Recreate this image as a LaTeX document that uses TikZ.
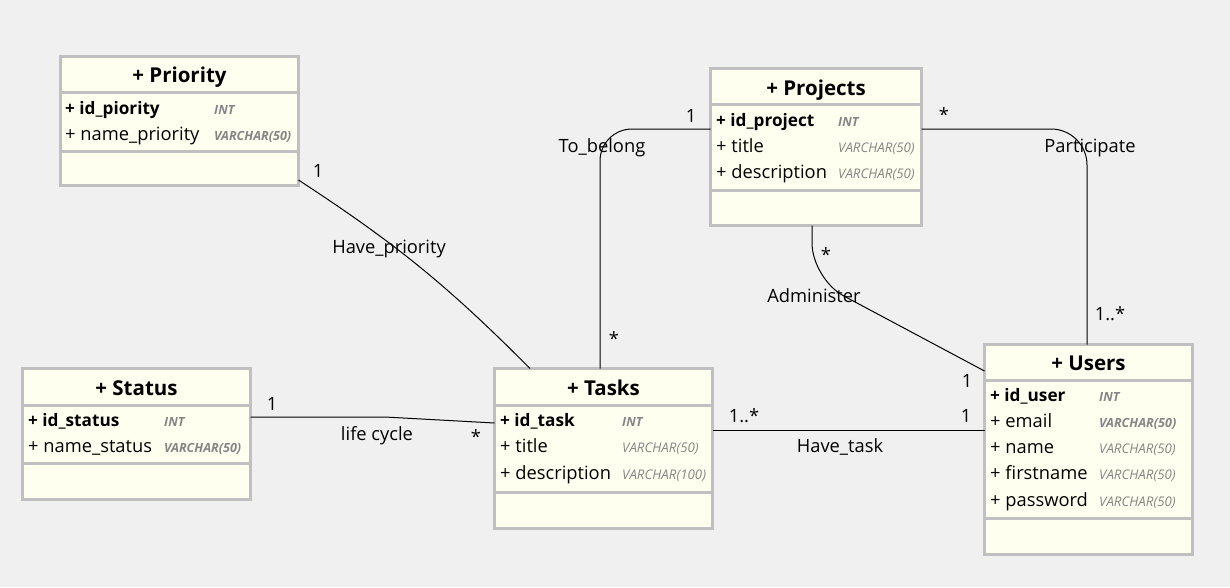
\documentclass[tikz,border=0pt]{standalone}
\usepackage{fontspec}
\setmainfont{Open Sans}
\usetikzlibrary{positioning}
\definecolor{canvas}{HTML}{F0F0F0}
\definecolor{boxfill}{HTML}{FFFFF0}
\definecolor{boxline}{HTML}{C0C0C0}
\definecolor{typegray}{HTML}{858585}

\begin{document}
\begin{tikzpicture}[x=1pt,y=-1pt]
	\tikzstyle{classbox}=[draw=boxline,line width=3pt,fill=boxfill,anchor=north west,inner sep=0pt,outer sep=0pt]
	\tikzstyle{sep}=[draw=boxline,line width=3pt]
	\tikzstyle{title}=[anchor=base,inner sep=0pt,font=\bfseries\fontsize{20.5}{24}\selectfont]
	\tikzstyle{field}=[anchor=base west,inner sep=0pt,font=\fontsize{18.3}{22}\selectfont]
	\tikzstyle{keyfield}=[anchor=base west,inner sep=0pt,font=\bfseries\fontsize{17.2}{22}\selectfont]
	\tikzstyle{sqltype}=[anchor=base west,inner sep=0pt,text=typegray,font=\itshape\fontsize{13.3}{15}\selectfont]
	\tikzstyle{sqlkey}=[anchor=base west,inner sep=0pt,text=typegray,font=\bfseries\itshape\fontsize{12.6}{15}\selectfont]
	\tikzstyle{assoc}=[draw=black,line width=1pt]
	\tikzstyle{lbl}=[anchor=base,inner sep=0pt,font=\fontsize{18.3}{22}\selectfont]

	\fill[canvas] (0,0) rectangle (1230,587);
	\useasboundingbox (0,0) rectangle (1230,587);

	% classes
	\node[classbox,minimum width=238,minimum height=129] (priority) at (60.5,56.5) {};
	\node[classbox,minimum width=211,minimum height=157] (projects) at (710.5,68.5) {};
	\node[classbox,minimum width=208,minimum height=210] (users) at (984.5,344.5) {};
	\node[classbox,minimum width=228,minimum height=131] (status) at (22.5,368.5) {};
	\node[classbox,minimum width=218,minimum height=160] (tasks) at (494.5,368.5) {};

	\draw[sep] (priority.west |- 0,92) -- (priority.east |- 0,92);
	\draw[sep] (priority.west |- 0,151) -- (priority.east |- 0,151);
	\draw[sep] (projects.west |- 0,104) -- (projects.east |- 0,104);
	\draw[sep] (projects.west |- 0,190) -- (projects.east |- 0,190);
	\draw[sep] (users.west |- 0,380) -- (users.east |- 0,380);
	\draw[sep] (users.west |- 0,518) -- (users.east |- 0,518);
	\draw[sep] (status.west |- 0,405) -- (status.east |- 0,405);
	\draw[sep] (status.west |- 0,463) -- (status.east |- 0,463);
	\draw[sep] (tasks.west |- 0,405) -- (tasks.east |- 0,405);
	\draw[sep] (tasks.west |- 0,492) -- (tasks.east |- 0,492);

	% Priority
	\node[title] (priorityT) at (priority.north |- 0,82) {+ Priority};
	\node[keyfield] (priorityId) at (65,114) {+ id\_piority};
	\node[sqlkey] (priorityIdT) at (214,114) {INT};
	\node[field] (priorityName) at (65,140) {+ name\_priority};
	\node[sqlkey] (priorityNameT) at (214,140) {VARCHAR(50)};

	% Projects
	\node[title] (projectsT) at (projects.north |- 0,95) {+ Projects};
	\node[keyfield] (projectsId) at (716,126) {+ id\_project};
	\node[sqlkey] (projectsIdT) at (838,126) {INT};
	\node[field] (projectsTitle) at (716,152) {+ title};
	\node[sqltype] (projectsTitleT) at (838,152) {VARCHAR(50)};
	\node[field] (projectsDesc) at (716,178) {+ description};
	\node[sqltype] (projectsDescT) at (838,178) {VARCHAR(50)};

	% Users
	\node[title] (usersT) at (users.north |- 0,370) {+ Users};
	\node[keyfield] (usersId) at (990,401) {+ id\_user};
	\node[sqlkey] (usersIdT) at (1099,401) {INT};
	\node[field] (usersEmail) at (990,427) {+ email};
	\node[sqlkey] (usersEmailT) at (1099,427) {VARCHAR(50)};
	\node[field] (usersName) at (990,453) {+ name};
	\node[sqltype] (usersNameT) at (1099,453) {VARCHAR(50)};
	\node[field] (usersFirst) at (990,479) {+ firstname};
	\node[sqltype] (usersFirstT) at (1099,479) {VARCHAR(50)};
	\node[field] (usersPass) at (990,506) {+ password};
	\node[sqltype] (usersPassT) at (1099,506) {VARCHAR(50)};

	% Status
	\node[title] (statusT) at (status.north |- 0,395) {+ Status};
	\node[keyfield] (statusId) at (28,426) {+ id\_status};
	\node[sqlkey] (statusIdT) at (164,426) {INT};
	\node[field] (statusName) at (28,452) {+ name\_status};
	\node[sqlkey] (statusNameT) at (164,452) {VARCHAR(50)};

	% Tasks
	\node[title] (tasksT) at (tasks.north |- 0,395) {+ Tasks};
	\node[keyfield] (tasksId) at (500,426) {+ id\_task};
	\node[sqlkey] (tasksIdT) at (622,426) {INT};
	\node[field] (tasksTitle) at (500,452) {+ title};
	\node[sqltype] (tasksTitleT) at (622,452) {VARCHAR(50)};
	\node[field] (tasksDesc) at (500,479) {+ description};
	\node[sqltype] (tasksDescT) at (622,479) {VARCHAR(100)};

	% associations
	\draw[assoc] (priority.east |- 0,180) to[bend left=6] (tasks.north -| 530,0);
	\draw[assoc] (status.east |- 0,417) -- (385,417) -- (tasks.west |- 0,423);
	\draw[assoc,rounded corners=32] (tasks.north -| 600,0) |- (projects.west |- 0,129);
	\draw[assoc,rounded corners=36] (projects.east |- 0,129) -| (users.north -| 1087,0);
	\draw[assoc,rounded corners=36] (projects.south -| 812,0) -- (812,279) -- (users.west |- 0,371);
	\draw[assoc] (tasks.east |- 0,430) -- (users.west |- 0,430);

	% multiplicities and names
	\node[lbl] (hpOne) at (318,177) {1};
	\node[lbl] (hpName) at (389,253) {Have\_priority};
	\node[lbl] (lcOne) at (272,410) {1};
	\node[lbl] (lcName) at (377,440) {life cycle};
	\node[lbl] (lcMany) at (476,443) {*};
	\node[lbl] (tbName) at (602,152) {To\_belong};
	\node[lbl] (tbOne) at (691,122) {1};
	\node[lbl] (tbMany) at (614,345) {*};
	\node[lbl] (paMany) at (944,121) {*};
	\node[lbl] (paName) at (1090,152) {Participate};
	\node[lbl] (paSome) at (1110,320) {1..*};
	\node[lbl] (adMany) at (826,261) {*};
	\node[lbl] (adName) at (814,302) {Administer};
	\node[lbl] (adOne) at (967,387) {1};
	\node[lbl] (htSome) at (744,422) {1..*};
	\node[lbl] (htOne) at (966,422) {1};
	\node[lbl] (htName) at (840,452) {Have\_task};
\end{tikzpicture}
\end{document}
